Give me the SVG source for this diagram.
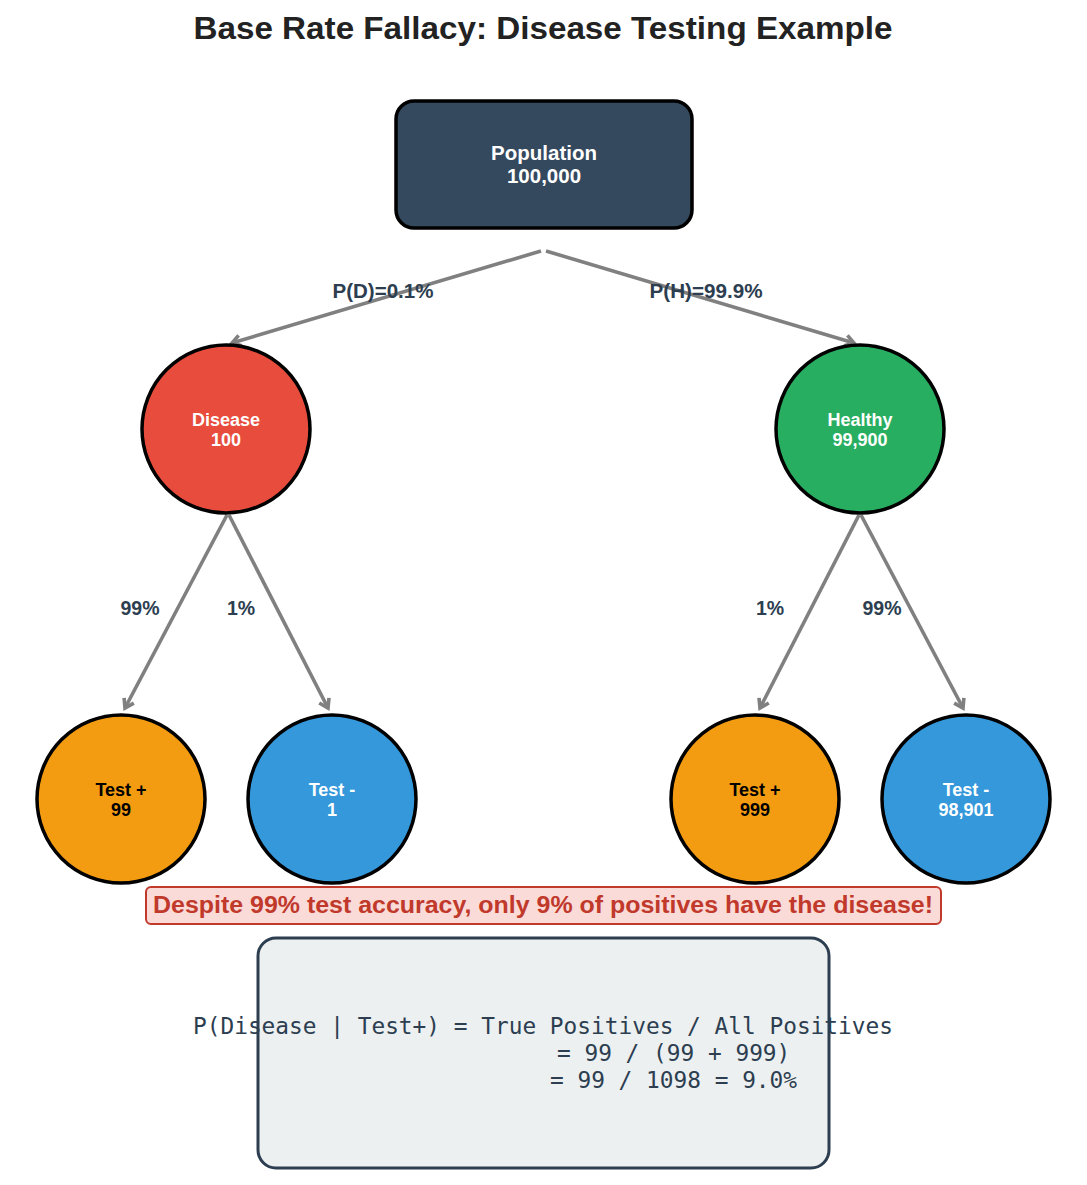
<svg xmlns="http://www.w3.org/2000/svg" width="1087" height="1185" viewBox="0 0 1087 1185">
<style>
.t{font-family:"Liberation Sans",Arial,sans-serif;font-weight:bold;text-anchor:middle}
.node{stroke:#000;stroke-width:3.5}
.lbl{font-family:"Liberation Sans",Arial,sans-serif;font-weight:bold;font-size:19.5px;fill:#2c3e50;text-anchor:middle}
.edge{stroke:#808080;stroke-width:3.6;fill:none}
.mono{font-family:"DejaVu Sans Mono",monospace;font-size:22.8px;fill:#2c3e50}
</style>
<defs>
<marker id="ah" markerUnits="userSpaceOnUse" markerWidth="20" markerHeight="20" refX="12" refY="10" orient="auto" viewBox="0 0 20 20">
<path d="M3.5,4.5 L12,10 L3.5,15.5" fill="none" stroke="#808080" stroke-width="3.6"/>
</marker>
</defs>
<rect width="1087" height="1185" fill="#fff"/>
<text class="t" x="543" y="39" font-size="31" fill="#222" textLength="699" lengthAdjust="spacingAndGlyphs">Base Rate Fallacy: Disease Testing Example</text>

<g id="connectors">
<line class="edge" x1="541" y1="251" x2="232" y2="343" marker-end="url(#ah)"/>
<line class="edge" x1="546" y1="251" x2="854" y2="343" marker-end="url(#ah)"/>
<line class="edge" x1="227" y1="515" x2="125" y2="708" marker-end="url(#ah)"/>
<line class="edge" x1="229" y1="515" x2="328" y2="708" marker-end="url(#ah)"/>
<line class="edge" x1="859" y1="515" x2="760" y2="708" marker-end="url(#ah)"/>
<line class="edge" x1="861" y1="515" x2="963" y2="708" marker-end="url(#ah)"/>
<text class="lbl" x="383" y="298" textLength="101" lengthAdjust="spacingAndGlyphs">P(D)=0.1%</text>
<text class="lbl" x="706" y="298" textLength="113" lengthAdjust="spacingAndGlyphs">P(H)=99.9%</text>
<text class="lbl" x="140" y="615">99%</text>
<text class="lbl" x="241" y="615">1%</text>
<text class="lbl" x="770" y="615">1%</text>
<text class="lbl" x="882" y="615">99%</text>
</g>

<g id="population">
<rect class="node" x="396" y="101" width="296" height="127" rx="18" fill="#34495e"/>
<text class="t" x="544" y="160" font-size="20.5" fill="#fff">Population</text>
<text class="t" x="544" y="183" font-size="20.5" fill="#fff">100,000</text>
</g>
<g id="disease">
<circle class="node" cx="226" cy="429" r="84" fill="#e74c3c"/>
<text class="t" x="226" y="425.5" font-size="18" fill="#fff">Disease</text>
<text class="t" x="226" y="446" font-size="18" fill="#fff">100</text>
</g>
<g id="healthy">
<circle class="node" cx="860" cy="429" r="84" fill="#27ae60"/>
<text class="t" x="860" y="425.5" font-size="18" fill="#fff">Healthy</text>
<text class="t" x="860" y="446" font-size="18" fill="#fff">99,900</text>
</g>
<g id="d-pos">
<circle class="node" cx="121" cy="799" r="84" fill="#f39c12"/>
<text class="t" x="121" y="795.5" font-size="18" fill="#000">Test +</text>
<text class="t" x="121" y="816" font-size="18" fill="#000">99</text>
</g>
<g id="d-neg">
<circle class="node" cx="332" cy="799" r="84" fill="#3498db"/>
<text class="t" x="332" y="795.5" font-size="18" fill="#fff">Test -</text>
<text class="t" x="332" y="816" font-size="18" fill="#fff">1</text>
</g>
<g id="h-pos">
<circle class="node" cx="755" cy="799" r="84" fill="#f39c12"/>
<text class="t" x="755" y="795.5" font-size="18" fill="#000">Test +</text>
<text class="t" x="755" y="816" font-size="18" fill="#000">999</text>
</g>
<g id="h-neg">
<circle class="node" cx="966" cy="799" r="84" fill="#3498db"/>
<text class="t" x="966" y="795.5" font-size="18" fill="#fff">Test -</text>
<text class="t" x="966" y="816" font-size="18" fill="#fff">98,901</text>
</g>

<g id="warning">
<rect x="146" y="887" width="795" height="37" rx="5" fill="#fadbd8" stroke="#c0392b" stroke-width="2"/>
<text class="t" x="543" y="913" font-size="23.5" fill="#c0392b" textLength="780" lengthAdjust="spacingAndGlyphs">Despite 99% test accuracy, only 9% of positives have the disease!</text>
</g>

<g id="formula">
<rect x="258" y="938" width="571" height="230" rx="18" fill="#ecf0f1" stroke="#2c3e50" stroke-width="3"/>
<text class="mono" x="193" y="1034">P(Disease | Test+) = True Positives / All Positives</text>
<text class="mono" x="557" y="1061">= 99 / (99 + 999)</text>
<text class="mono" x="550" y="1088">= 99 / 1098 = 9.0%</text>
</g>
</svg>
